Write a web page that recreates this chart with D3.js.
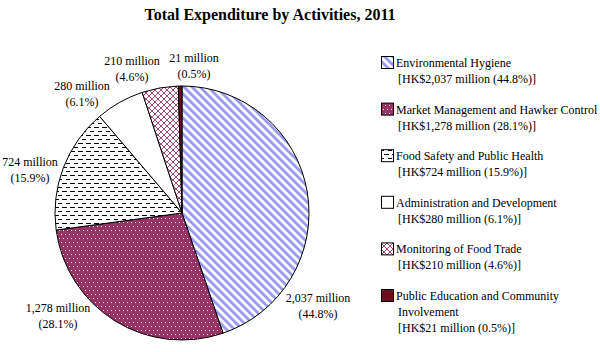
<!DOCTYPE html>
<html>
<head>
<meta charset="utf-8">
<script src="https://unpkg.com/d3@7/dist/d3.min.js"></script>
<style>
  body { margin: 0; background: #fff; }
  svg { display: block; font-family: "Liberation Serif", "Times New Roman", serif; }
</style>
</head>
<body>
<div id="chart"></div>
<script>
const activities = [
  "Environmental Hygiene",
  "Market Management and Hawker Control",
  "Food Safety and Public Health",
  "Administration and Development",
  "Monitoring of Food Trade",
  "Public Education and Community Involvement"
];
const amounts = [2037, 1278, 724, 280, 210, 21];
const shares = ["44.8%", "28.1%", "15.9%", "6.1%", "4.6%", "0.5%"];
const amountLabels = ["2,037", "1,278", "724", "280", "210", "21"];

// where each data label sits (Excel placed these by hand)
const labelAt = [[318, 302], [58, 312], [30, 166], [82, 90], [132, 65], [194, 62]];
// legend rows wrapped like the original
const legendLines = [
  ["Environmental Hygiene"],
  ["Market Management and Hawker Control"],
  ["Food Safety and Public Health"],
  ["Administration and Development"],
  ["Monitoring of Food Trade"],
  ["Public Education and Community", "Involvement"]
];

const width = 600, height = 352;
const cx = 182, cy = 213, radius = 127;

const svg = d3.select("#chart").append("svg")
  .attr("width", width)
  .attr("height", height);

const defs = svg.append("defs");

// blue diagonal stripes
const p0 = defs.append("pattern").attr("id", "pat0")
  .attr("patternUnits", "userSpaceOnUse").attr("width", 8).attr("height", 8);
p0.append("rect").attr("width", 8).attr("height", 8).attr("fill", "#fff");
p0.append("path").attr("d", "M-2,-2 L10,10 M-6,2 L2,10 M6,-2 L14,6")
  .attr("stroke", "#9999ee").attr("stroke-width", 2.8);

// maroon with white dots
const p1 = defs.append("pattern").attr("id", "pat1")
  .attr("patternUnits", "userSpaceOnUse").attr("width", 4).attr("height", 8);
p1.append("rect").attr("width", 4).attr("height", 8).attr("fill", "#993366");
p1.append("rect").attr("x", 1).attr("y", 1).attr("width", 1).attr("height", 1).attr("fill", "#fff");
p1.append("rect").attr("x", 3).attr("y", 5).attr("width", 1).attr("height", 1).attr("fill", "#fff");

// horizontal dashes
const p2 = defs.append("pattern").attr("id", "pat2")
  .attr("patternUnits", "userSpaceOnUse").attr("width", 8).attr("height", 8);
p2.append("rect").attr("width", 8).attr("height", 8).attr("fill", "#fff");
p2.append("rect").attr("x", 0).attr("y", 2).attr("width", 5).attr("height", 1).attr("fill", "#000");
p2.append("rect").attr("x", 4).attr("y", 6).attr("width", 5).attr("height", 1).attr("fill", "#000");

// maroon crosshatch
const p4 = defs.append("pattern").attr("id", "pat4")
  .attr("patternUnits", "userSpaceOnUse").attr("width", 6).attr("height", 6);
p4.append("rect").attr("width", 6).attr("height", 6).attr("fill", "#fff");
p4.append("path").attr("d", "M0,0 L6,6 M6,0 L0,6")
  .attr("stroke", "#993366").attr("stroke-width", 0.9);

const fills = ["url(#pat0)", "url(#pat1)", "url(#pat2)", "#fff", "url(#pat4)", "#6b0f1f"];

svg.append("text")
  .attr("x", 270).attr("y", 20)
  .attr("text-anchor", "middle")
  .attr("font-size", 16).attr("font-weight", "bold")
  .text("Total Expenditure by Activities, 2011");

const pie = d3.pie().sort(null).value(d => d)(amounts);
const arc = d3.arc().innerRadius(0).outerRadius(radius);

const g = svg.append("g").attr("transform", `translate(${cx},${cy})`);
g.selectAll("path")
  .data(pie)
  .join("path")
  .attr("d", arc)
  .attr("fill", (d, i) => fills[i])
  .attr("stroke", "#000")
  .attr("stroke-width", 1);

const labels = svg.append("g")
  .attr("font-size", 12)
  .attr("text-anchor", "middle");
amounts.forEach((v, i) => {
  const t = labels.append("text")
    .attr("x", labelAt[i][0]).attr("y", labelAt[i][1]);
  t.append("tspan").attr("x", labelAt[i][0]).text(`${amountLabels[i]} million`);
  t.append("tspan").attr("x", labelAt[i][0]).attr("dy", 16).text(`(${shares[i]})`);
});

const legend = svg.append("g").attr("font-size", 12);
const rowY = d3.scalePoint().domain(activities).range([56, 289]);
activities.forEach((name, i) => {
  const y = rowY(name);
  legend.append("rect")
    .attr("x", 381.5).attr("y", y + 0.5)
    .attr("width", 12).attr("height", 12)
    .attr("fill", fills[i]).attr("stroke", "#000");
  const lines = legendLines[i].concat([`[HK$${amountLabels[i]} million (${shares[i]})]`]);
  lines.forEach((line, j) => {
    legend.append("text")
      .attr("x", j === 0 ? 396 : 398)
      .attr("y", y + 11 + j * 16)
      .text(line);
  });
});
</script>
</body>
</html>
